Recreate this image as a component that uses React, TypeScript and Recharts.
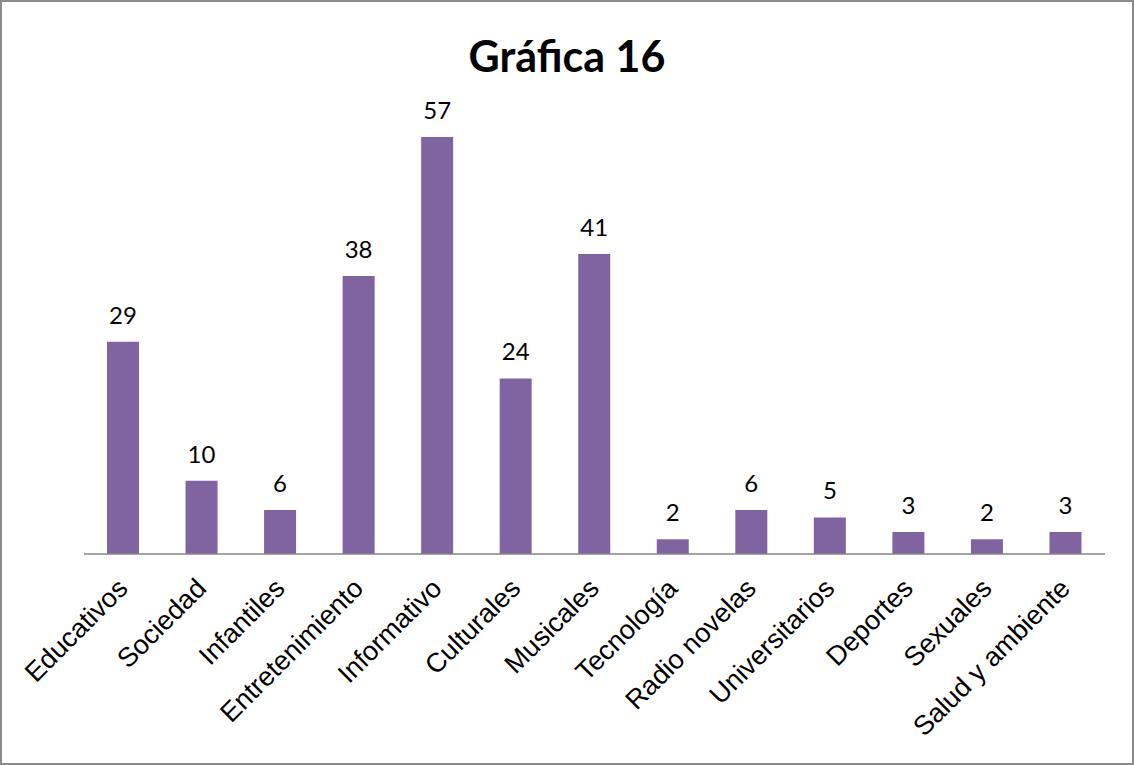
import { BarChart, Bar, XAxis, YAxis, LabelList } from 'recharts';

const categories = [
    'Educativos', 'Sociedad', 'Infantiles', 'Entretenimiento', 'Informativo', 'Culturales',
    'Musicales', 'Tecnología', 'Radio novelas', 'Universitarios', 'Deportes', 'Sexuales', 'Salud y ambiente',
];
const values = [29, 10, 6, 38, 57, 24, 41, 2, 6, 5, 3, 2, 3];

const data = categories.map((c, i) => ({ name: c, value: values[i] }));

const RotatedTick = (props: any) => {
    const { x, y, payload } = props;
    return (
        <g transform={`translate(${x + 6},${y + 28})`}>
            <text transform="rotate(-45)" textAnchor="end" fill="#000"
                style={{ fontFamily: 'Liberation Sans, Arial', fontSize: 27 }}>
                {payload.value}
            </text>
        </g>
    );
};

export default function App() {
    return (
        <div style={{ position: 'absolute', left: 0, top: 0, width: 1134, height: 765, background: '#fff' }}>
            <div style={{
                position: 'absolute', left: 0, top: 0, width: 1134, height: 765,
                border: '2px solid #8a8a8a', boxSizing: 'border-box',
            }} />
            <div style={{
                position: 'absolute', left: 0, top: 34, width: 1134, textAlign: 'center',
                fontFamily: 'Lato', fontWeight: 'bold', fontSize: 43, lineHeight: '43px', color: '#000',
            }}>Gráfica 16</div>
            <BarChart width={1134} height={765} data={data}
                margin={{ top: 115, right: 29, left: 84, bottom: 0 }}>
                <XAxis dataKey="name" height={211} interval={0} tickLine={false}
                    axisLine={{ stroke: '#868686', strokeWidth: 1.5 }} tick={<RotatedTick />} />
                <YAxis hide domain={[0, 60]} />
                <Bar dataKey="value" fill="#8064A2" barSize={32} isAnimationActive={false}>
                    <LabelList dataKey="value" position="top" offset={18} fill="#000"
                        style={{ fontFamily: 'Lato', fontSize: 24 }} />
                </Bar>
            </BarChart>
        </div>
    );
}
